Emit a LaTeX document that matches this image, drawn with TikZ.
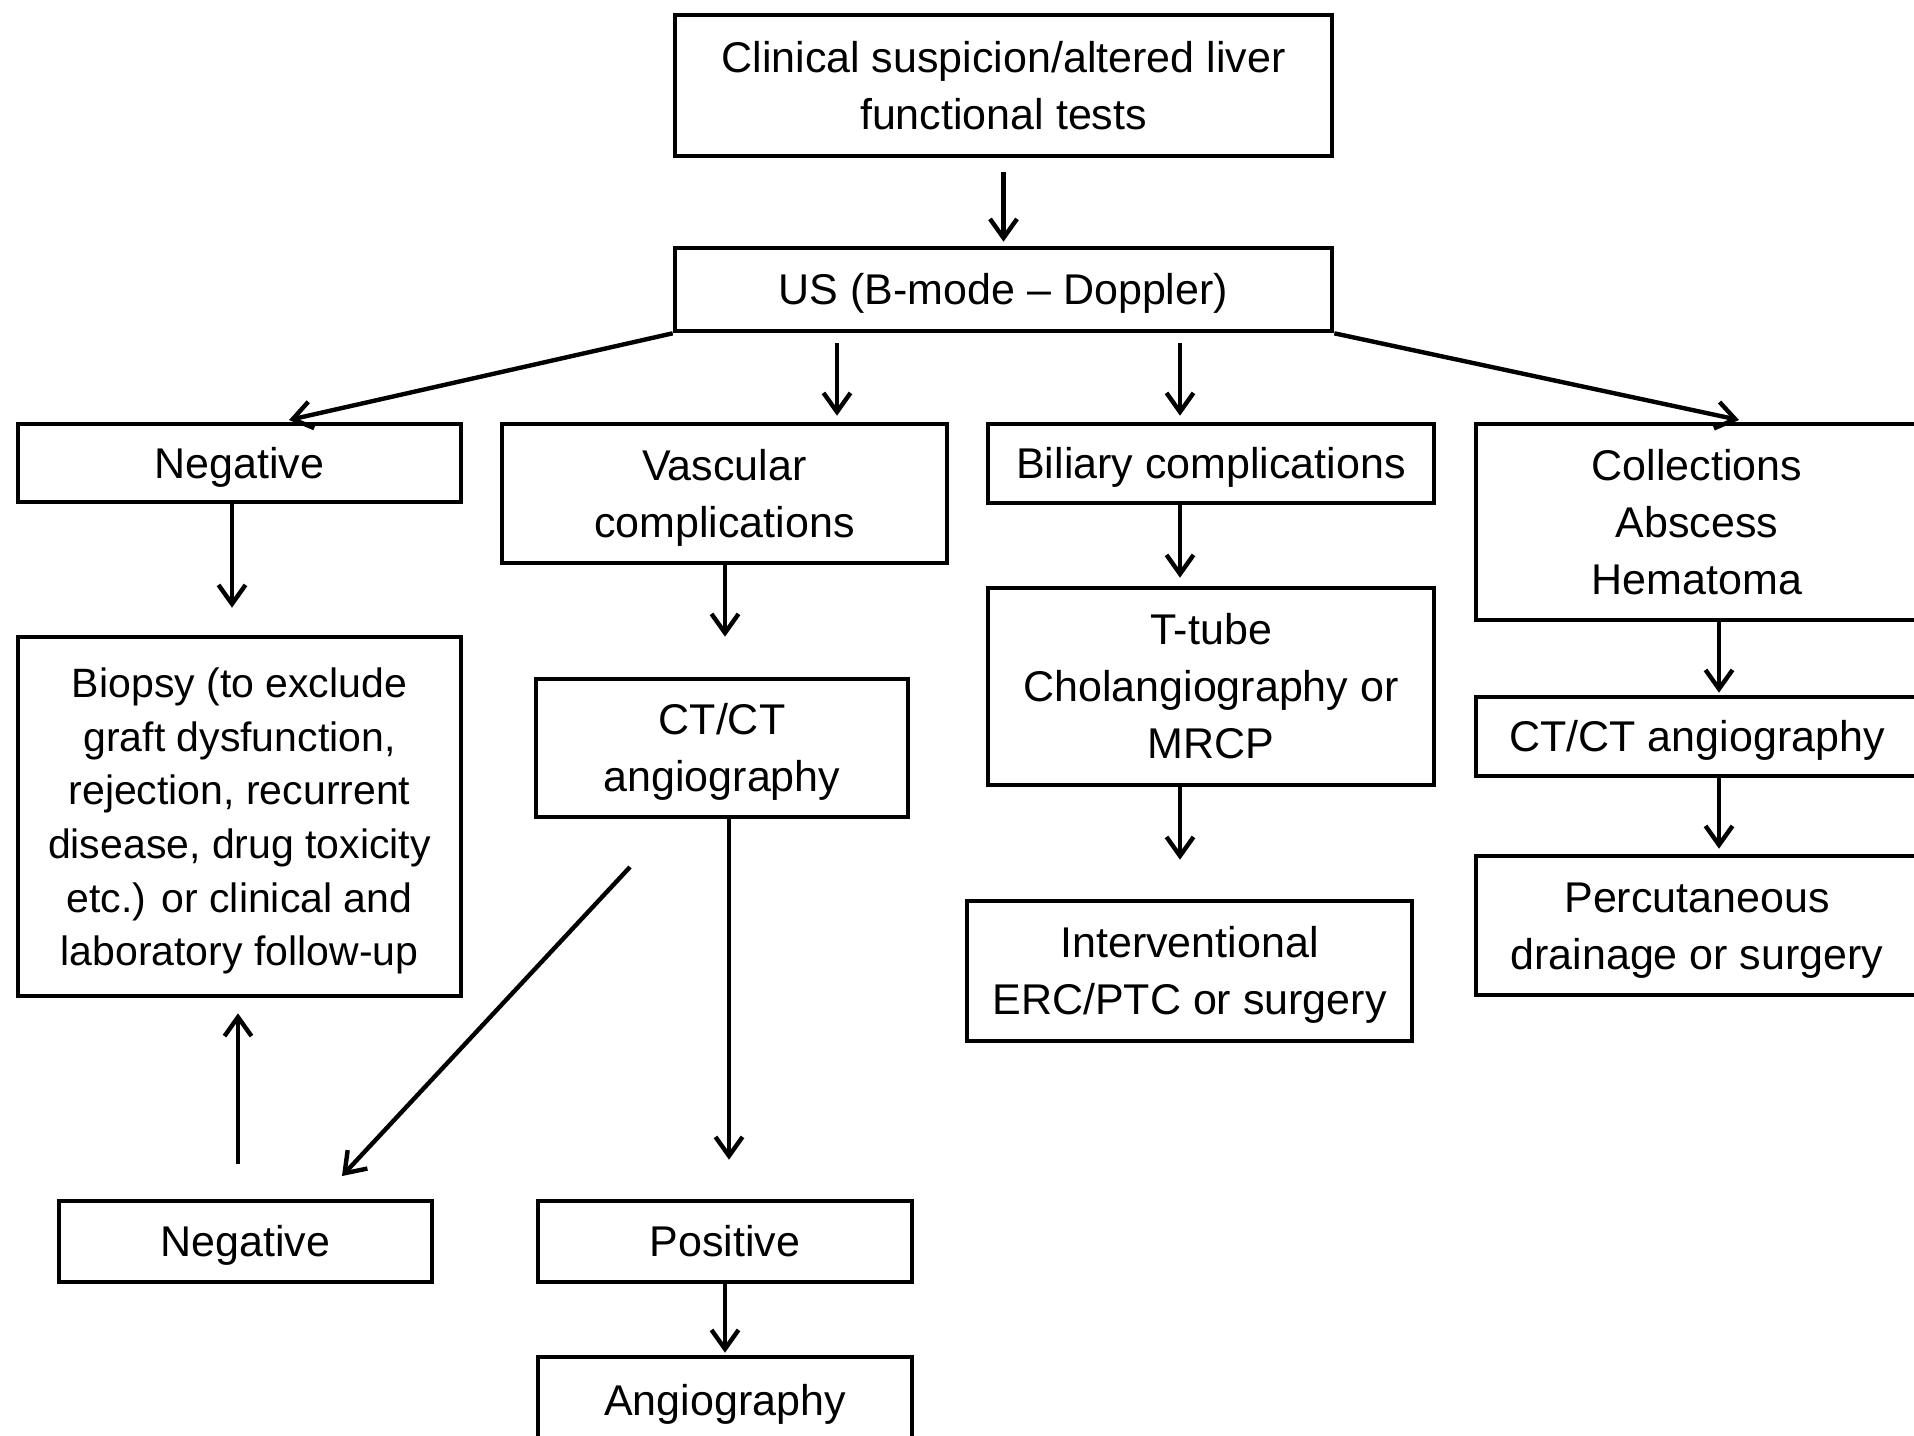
\documentclass[tikz,border=0pt]{standalone}
\usepackage{fontspec}
\setmainfont{Liberation Sans}
\usetikzlibrary{arrows.meta}

\newcommand{\topstrut}{\rule{0pt}{20.2pt}}
\newcommand{\botstrut}{\rule[-5pt]{0pt}{5pt}}

\tikzset{
  blk/.style={draw, line width=2.3pt, align=center, inner sep=0pt,
    font=\fontsize{21.5}{28.5}\selectfont,
    execute at begin node=\topstrut, execute at end node=\botstrut},
  arr/.style={line width=2.2pt, -{Straight Barb[length=9.5pt,width=13.5pt,line width=2.2pt]}}
}

\begin{document}
\begin{tikzpicture}[x=0.5pt,y=0.5pt,yscale=-1,xscale=1]
\useasboundingbox (0,0) rectangle (1914,1435);

%Shape: Rectangle 
\node[blk, minimum width=328.5pt, minimum height=70.5pt] (clin) at (1003.5,85.5) {\topstrut Clinical suspicion/altered liver\\functional tests};
%Shape: Rectangle 
\node[blk, minimum width=328.5pt, minimum height=41.5pt] (us) at (1003.5,289.5) {US (B-mode -- Doppler)};

%Shape: Rectangle 
\node[blk, minimum width=221.5pt, minimum height=39pt] (neg) at (239.5,463) {Negative};
%Shape: Rectangle 
\node[blk, minimum width=222.5pt, minimum height=69.5pt] (vasc) at (724.5,493.5) {\topstrut Vascular\\complications};
%Shape: Rectangle 
\node[blk, minimum width=223pt, minimum height=39.5pt] (bil) at (1211,463.5) {Biliary complications};
%Shape: Rectangle 
\node[blk, minimum width=221pt, minimum height=98pt] (coll) at (1697,522) {\topstrut Collections\\Abscess\\Hematoma};

%Shape: Rectangle 
\node[blk, minimum width=221.5pt, minimum height=179.5pt, font=\fontsize{20.5}{26.8}\selectfont] (biop) at (239.5,816.5) {\topstrut Biopsy (to exclude\\graft dysfunction,\\rejection, recurrent\\disease, drug toxicity\\etc.) or clinical and\\laboratory follow-up};
%Shape: Rectangle 
\node[blk, minimum width=186pt, minimum height=69pt] (ct) at (722,748) {\topstrut CT/CT\\angiography};
%Shape: Rectangle 
\node[blk, minimum width=223pt, minimum height=98.5pt] (ttube) at (1211,686.5) {\topstrut T-tube\\Cholangiography or\\MRCP};
%Shape: Rectangle 
\node[blk, minimum width=222.5pt, minimum height=70pt] (interv) at (1189.5,971) {\topstrut Interventional\\ERC/PTC or surgery};
%Shape: Rectangle 
\node[blk, minimum width=221pt, minimum height=39.5pt] (ctr) at (1697,736.5) {CT/CT angiography};
%Shape: Rectangle 
\node[blk, minimum width=221pt, minimum height=69.5pt] (perc) at (1697,925.5) {\topstrut Percutaneous\\drainage or surgery};

%Shape: Rectangle 
\node[blk, minimum width=186.5pt, minimum height=40.5pt] (neg2) at (245.5,1241.5) {Negative};
%Shape: Rectangle 
\node[blk, minimum width=187pt, minimum height=40.5pt] (pos) at (725,1241.5) {Positive};
%Shape: Rectangle 
\node[blk, minimum width=187pt, minimum height=43pt] (angio) at (725,1400) {Angiography};

% Arrow columns and free ends
\coordinate (xV) at (837,0);
\coordinate (xB) at (1180,0);
\coordinate (xN) at (232,0);
\coordinate (xC) at (725,0);
\coordinate (xP) at (729,0);
\coordinate (xN2) at (238,0);
\coordinate (xR) at (1719,0);
\coordinate (tipN) at (289,420);
\coordinate (tipC) at (1739,420);
\coordinate (dA) at (630,867);
\coordinate (dB) at (342,1176);

%Straight Lines 
\draw[arr, shorten <=7pt, shorten >=2pt] (clin) -- (us);
\draw[arr] (us.south west) -- (tipN);
\draw[arr, shorten <=5pt, shorten >=3pt] (us.south -| xV) -- (vasc.north -| xV);
\draw[arr, shorten <=5pt, shorten >=3pt] (us.south -| xB) -- (bil.north -| xB);
\draw[arr] (us.south east) -- (tipC);

%Straight Lines 
\draw[arr, shorten >=13.5pt] (neg.south -| xN) -- (biop.north -| xN);
\draw[arr, shorten >=20pt] (vasc.south -| xC) -- (ct.north -| xC);
\draw[arr, shorten >=19.5pt] (ct.south -| xP) -- (pos.north -| xP);
\draw[arr] (dA) -- (dB);
\draw[arr, shorten <=17.5pt, shorten >=7.5pt] (neg2.north -| xN2) -- (biop.south -| xN2);
\draw[arr, shorten >=1pt] (pos) -- (angio);

%Straight Lines 
\draw[arr, shorten >=4pt] (bil.south -| xB) -- (ttube.north -| xB);
\draw[arr, shorten >=19.5pt] (ttube.south -| xB) -- (interv.north -| xB);
\draw[arr, shorten >=1pt] (coll.south -| xR) -- (ctr.north -| xR);
\draw[arr, shorten >=2.5pt] (ctr.south -| xR) -- (perc.north -| xR);

\end{tikzpicture}
\end{document}
